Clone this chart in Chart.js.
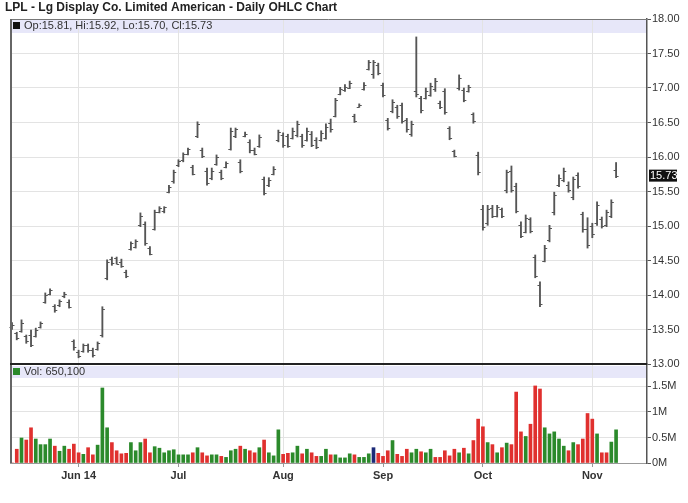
<!DOCTYPE html>
<html><head><meta charset="utf-8">
<script src="https://cdn.jsdelivr.net/npm/chart.js@4/dist/chart.umd.min.js"></script>
<style>html,body{margin:0;padding:0;background:#fff}#wrap{position:relative;width:688px;height:503px}</style>
</head><body><div id="wrap"><canvas id="c" width="688" height="503"></canvas></div>
<script>
const chartTitle = "LPL - Lg Display Co. Limited American - Daily OHLC Chart";
const priceLegend = "Op:15.81, Hi:15.92, Lo:15.70, Cl:15.73";
const volLegend = "Vol: 650,100";
const lastPrice = 15.73;
const monthIdx = [14, 35, 57, 78, 99, 122];
const monthLabels = ["Jun 14", "Jul", "Aug", "Sep", "Oct", "Nov"];
const priceTicks = [13, 13.5, 14, 14.5, 15, 15.5, 16, 16.5, 17, 17.5, 18];
const volTicksK = [0, 500, 1000, 1500];
const volTickLabels = ["0M", "0.5M", "1M", "1.5M"];

const highs = [
13.60,13.46,13.64,13.42,13.49,13.52,13.61,14.03,14.09,13.86,
13.93,14.04,13.93,13.35,13.20,13.29,13.29,13.23,13.32,13.83,
14.51,14.55,14.55,14.52,14.36,14.77,14.80,15.19,15.06,14.70,
15.23,15.28,15.28,15.59,15.81,15.96,16.06,16.13,15.88,16.51,
16.13,15.84,15.84,16.03,15.81,15.93,16.42,16.42,15.96,16.36,
16.25,16.13,16.32,15.71,15.70,15.86,16.39,16.35,16.33,16.42,
16.52,16.33,16.42,16.37,16.28,16.38,16.48,16.55,16.85,17.01,
17.05,17.10,16.62,16.77,17.08,17.40,17.40,17.36,17.07,16.56,
16.83,16.75,16.78,16.56,16.52,17.74,16.88,17.00,17.07,17.14,
16.81,16.99,16.44,16.10,17.19,17.00,17.04,16.64,16.07,15.30,
15.30,15.30,15.30,15.26,15.81,15.87,15.62,15.06,15.16,15.12,
14.58,14.19,14.72,15.01,15.49,15.74,15.84,15.64,15.71,15.77,
15.20,15.12,15.04,15.35,15.13,15.23,15.38,15.92];
const lows = [
13.50,13.35,13.46,13.30,13.25,13.39,13.52,13.88,14.00,13.75,
13.83,13.96,13.81,13.20,13.09,13.17,13.17,13.10,13.20,13.39,
14.22,14.43,14.45,14.40,14.25,14.65,14.68,14.99,14.72,14.58,
14.94,15.19,15.19,15.48,15.62,15.86,15.93,16.03,15.74,16.28,
15.99,15.59,15.67,15.88,15.67,15.84,16.10,16.28,15.77,16.29,
16.06,16.03,16.14,15.45,15.57,15.74,16.22,16.14,16.14,16.26,
16.29,16.14,16.23,16.15,16.12,16.23,16.26,16.36,16.58,16.90,
16.95,16.99,16.50,16.72,16.97,17.26,17.14,17.19,16.87,16.39,
16.64,16.56,16.49,16.36,16.30,16.87,16.64,16.84,16.88,16.95,
16.70,16.62,16.25,16.00,16.97,16.80,16.94,16.49,15.74,14.94,
15.01,15.12,15.13,15.12,15.48,15.49,15.19,14.83,14.90,14.90,
14.25,13.83,14.48,14.77,15.16,15.57,15.64,15.49,15.38,15.55,
14.91,14.68,14.83,15.01,14.97,14.99,15.12,15.70];
const opens = [
13.53,13.45,13.48,13.40,13.42,13.41,13.54,13.90,14.02,13.84,
13.85,13.98,13.90,13.33,13.18,13.19,13.27,13.21,13.22,13.42,
14.25,14.52,14.53,14.48,14.33,14.67,14.70,15.01,15.03,14.68,
14.96,15.21,15.22,15.50,15.65,15.88,15.95,16.05,15.86,16.30,
16.10,15.80,15.70,15.90,15.78,15.86,16.12,16.30,15.93,16.30,
16.22,16.10,16.16,15.68,15.59,15.76,16.24,16.32,16.30,16.28,
16.32,16.30,16.25,16.34,16.25,16.25,16.28,16.50,16.60,16.92,
16.97,17.00,16.60,16.73,16.98,17.28,17.20,17.33,17.05,16.54,
16.66,16.72,16.75,16.53,16.33,16.95,16.85,16.86,16.90,16.98,
16.78,16.95,16.42,16.08,17.00,16.97,16.96,16.62,16.03,15.25,
15.05,15.26,15.15,15.24,15.52,15.80,15.58,15.02,14.92,15.10,
14.55,14.15,14.50,14.80,15.20,15.60,15.66,15.60,15.42,15.74,
15.18,14.95,15.00,15.05,15.10,15.02,15.15,15.81];
const closes = [
13.57,13.38,13.60,13.33,13.28,13.50,13.59,14.00,14.07,13.78,
13.91,14.02,13.83,13.24,13.12,13.27,13.20,13.13,13.30,13.80,
14.48,14.46,14.45,14.42,14.27,14.75,14.78,15.15,14.75,14.60,
15.20,15.26,15.27,15.57,15.78,15.94,16.04,16.11,15.76,16.48,
16.01,15.62,15.80,16.00,15.70,15.91,16.38,16.40,15.80,16.34,
16.10,16.05,16.29,15.48,15.66,15.83,16.36,16.17,16.16,16.38,
16.48,16.17,16.38,16.18,16.14,16.35,16.44,16.40,16.82,16.98,
17.02,17.07,16.52,16.76,17.05,17.37,17.37,17.22,16.90,16.42,
16.80,16.60,16.52,16.40,16.48,16.92,16.68,16.96,17.03,17.10,
16.72,16.65,16.28,16.02,17.15,16.83,17.01,16.52,15.78,14.98,
15.25,15.15,15.27,15.14,15.78,15.52,15.22,14.86,15.12,14.93,
14.28,13.87,14.68,14.97,15.45,15.70,15.80,15.52,15.68,15.58,
14.95,14.72,14.88,15.30,15.00,15.20,15.35,15.73];
const volumesK = [
0,270,490,450,690,470,360,360,470,330,
230,330,270,370,200,170,300,160,350,1470,
690,400,240,180,190,400,240,400,470,200,
320,290,200,240,260,160,160,160,200,300,
200,140,160,160,130,110,240,270,330,270,
240,200,300,450,200,140,650,170,190,200,
330,180,270,200,130,130,270,160,160,100,
100,180,160,110,110,180,300,190,130,240,
440,170,130,270,200,270,220,200,270,110,
110,240,140,270,200,290,180,440,860,710,
400,360,200,300,390,360,1390,610,520,760,
1510,1450,690,570,610,470,330,240,400,360,
470,970,860,570,200,200,410,650.1];
const volDirection = (
"rrgrrggggr"+"ggrrrgrrgg"+"grrrrgggrr"+"ggggggggrg"+"rrggrgggrg"+
"rrgrgggrrg"+"grgrrggrgg"+"ggrgggbrrr"+"grrrggrggr"+"rrrrgrgrrr"+
"grgrgrrrgr"+"rrgggggrgr"+"rrrgrrgg").split("");

const volColorMap = { g: "#2b8a2b", r: "#e0302e", b: "#1c2a78" };
const FONT = "'Liberation Sans', Arial, sans-serif";

const decor = {
  id: "decor",
  beforeDraw(chart) {
    const { ctx } = chart;
    const x = chart.scales.x, yp = chart.scales.y, yv = chart.scales.yv;
    ctx.save();
    ctx.fillStyle = "#e7e7f9";
    ctx.fillRect(x.left, yp.top + 1, x.right - x.left, 13);
    ctx.fillRect(x.left, yv.top + 2, x.right - x.left, 12);
    ctx.restore();
  },
  afterDatasetsDraw(chart) {
    const { ctx } = chart;
    const x = chart.scales.x, y = chart.scales.y;
    ctx.save();
    ctx.strokeStyle = "#555";
    ctx.lineWidth = 1;
    ctx.beginPath();
    for (let i = 0; i < opens.length; i++) {
      const px = x.getPixelForValue(i);
      const po = Math.round(y.getPixelForValue(opens[i])) + 0.5;
      const pc = Math.round(y.getPixelForValue(closes[i])) + 0.5;
      ctx.moveTo(px - 2.5, po); ctx.lineTo(px, po);
      ctx.moveTo(px, pc); ctx.lineTo(px + 2.5, pc);
    }
    ctx.stroke();
    ctx.restore();
  },
  afterDraw(chart) {
    const { ctx } = chart;
    const x = chart.scales.x, yp = chart.scales.y, yv = chart.scales.yv;
    ctx.save();
    ctx.strokeStyle = "#777";
    ctx.lineWidth = 1;
    ctx.beginPath();
    ctx.moveTo(x.left, yp.top + 0.5); ctx.lineTo(x.right, yp.top + 0.5);
    ctx.stroke();
    ctx.strokeStyle = "#666";
    ctx.lineWidth = 2;
    ctx.beginPath();
    ctx.moveTo(x.left + 1, yp.top); ctx.lineTo(x.left + 1, yv.bottom);
    ctx.stroke();
    ctx.strokeStyle = "#222";
    ctx.lineWidth = 2;
    ctx.beginPath();
    ctx.moveTo(x.left, yp.bottom); ctx.lineTo(x.right, yp.bottom);
    ctx.stroke();
    ctx.fillStyle = "#222";
    ctx.font = "bold 12px " + FONT;
    ctx.textBaseline = "middle";
    ctx.textAlign = "left";
    ctx.fillText(chartTitle, 5, 8);
    ctx.fillStyle = "#111";
    ctx.fillRect(x.left + 3, yp.top + 3, 7, 7);
    ctx.fillStyle = "#333";
    ctx.font = "11px " + FONT;
    ctx.fillText(priceLegend, x.left + 14, yp.top + 7);
    ctx.fillStyle = volColorMap.g;
    ctx.fillRect(x.left + 3, yv.top + 4, 7, 7);
    ctx.fillStyle = "#333";
    ctx.fillText(volLegend, x.left + 14, yv.top + 8);
    const py = yp.getPixelForValue(lastPrice);
    ctx.fillStyle = "#111";
    ctx.fillRect(x.right + 2, py - 6, 28, 12);
    ctx.fillStyle = "#fff";
    ctx.fillText(lastPrice.toFixed(2), x.right + 3, py);
    ctx.restore();
  }
};

new Chart(document.getElementById("c"), {
  type: "bar",
  data: {
    datasets: [
      {
        label: "OHLC",
        data: highs.map((h, i) => ({ x: i, y: [lows[i], h] })),
        yAxisID: "y",
        backgroundColor: "#555",
        barThickness: 1.2,
        grouped: false
      },
      {
        label: "Volume",
        data: volumesK.map((v, i) => ({ x: i, y: v })),
        yAxisID: "yv",
        backgroundColor: volDirection.map(d => volColorMap[d]),
        barThickness: 3,
        grouped: false
      }
    ]
  },
  options: {
    responsive: false,
    animation: false,
    layout: { padding: { left: 10, top: 19, right: 0, bottom: 0 } },
    plugins: { legend: { display: false }, tooltip: { enabled: false }, title: { display: false } },
    scales: {
      x: {
        type: "linear",
        offset: false,
        min: -0.42,
        max: 133.5,
        afterBuildTicks: s => { s.ticks = monthIdx.map(v => ({ value: v })); },
        afterFit: s => { s.height = 40; },
        ticks: {
          autoSkip: false, maxRotation: 0, padding: 2,
          color: "#333",
          font: { family: FONT, size: 11, weight: "bold" },
          callback: v => monthLabels[monthIdx.indexOf(v)]
        },
        grid: { offset: false, color: "#e3e3e3", tickLength: 4, tickColor: "#999" },
        border: { color: "#999" }
      },
      y: {
        type: "linear",
        position: "right",
        stack: "panels",
        stackWeight: 345,
        min: 13, max: 18,
        afterBuildTicks: s => { s.ticks = priceTicks.map(v => ({ value: v })); },
        afterFit: s => { s.width = 41; },
        ticks: {
          padding: 1, color: "#333",
          font: { family: FONT, size: 11 },
          callback: v => v.toFixed(2)
        },
        grid: { color: "#e3e3e3", tickLength: 4, tickColor: "#555" },
        border: { color: "#555", width: 1.5 }
      },
      yv: {
        type: "linear",
        position: "right",
        stack: "panels",
        stackWeight: 99,
        min: 0, max: 1940,
        afterBuildTicks: s => { s.ticks = volTicksK.map(v => ({ value: v })); },
        afterFit: s => { s.width = 41; },
        ticks: {
          padding: 1, color: "#333",
          font: { family: FONT, size: 11 },
          callback: v => volTickLabels[volTicksK.indexOf(v)]
        },
        grid: { color: "#e3e3e3", tickLength: 4, tickColor: "#555" },
        border: { color: "#555", width: 1.5 }
      }
    }
  },
  plugins: [decor]
});
</script>
</body></html>
